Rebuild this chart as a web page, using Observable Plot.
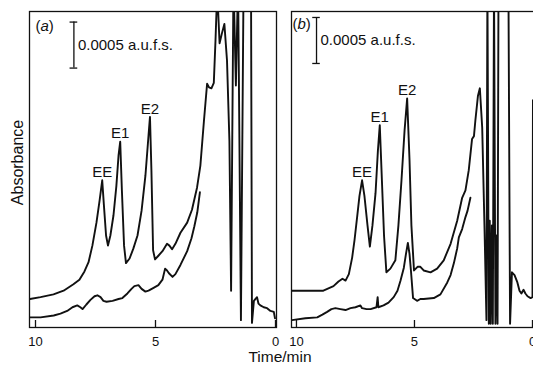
<!DOCTYPE html>
<html><head><meta charset="utf-8">
<script src="https://cdn.jsdelivr.net/npm/d3@7"></script>
<script src="https://cdn.jsdelivr.net/npm/@observablehq/plot@0.6"></script>
<style>
html,body{margin:0;padding:0;background:#fff;overflow:hidden;}
#wrap{position:relative;width:533px;height:351px;overflow:hidden;}
#caption{width:560px;margin-top:0px;text-align:center;font:15.5px "Liberation Sans",Arial,sans-serif;line-height:12px;color:#111;}
</style></head><body>
<div id="wrap"></div>
<div id="caption">Time/min</div>
<script>
// ---- data (time in min, absorbance in mAU; 0.5 mAU = 0.0005 a.u.f.s.) ----
const xTicks = [10, 5, 0];
const peakNames = ["EE", "E1", "E2"];
const scaleLabel = "0.0005 a.u.f.s.";
const panelTags = ["(a)", "(b)"];

const aUpperTime = [10.23, 9.79, 9.25, 8.83, 8.42, 8.17, 7.96, 7.79, 7.63, 7.46, 7.33, 7.22, 7.15, 7.06, 6.98, 6.88, 6.75, 6.63, 6.54, 6.47, 6.40, 6.31, 6.23, 6.08, 5.92, 5.75, 5.58, 5.42, 5.29, 5.23, 5.17, 5.10, 5.02, 4.88, 4.71, 4.52, 4.42, 4.31, 4.17, 3.96, 3.68, 3.48, 3.27, 3.13, 2.98, 2.85, 2.77, 2.67, 2.57, 2.50, 2.45, 2.40, 2.33, 2.23, 2.13, 2.02, 1.92, 1.85, 1.75, 1.65, 1.56, 1.44, 1.33, 1.02, 0.98, 0.90, 0.77, 0.71, 0.63, 0.49, 0.35, 0.21, 0.07, 0.02];
const aUpperAbs = [0.31, 0.33, 0.36, 0.40, 0.47, 0.52, 0.61, 0.71, 0.89, 1.14, 1.38, 1.60, 1.33, 1.00, 0.89, 1.00, 1.22, 1.54, 1.87, 2.02, 1.49, 0.89, 0.70, 0.75, 0.86, 1.00, 1.27, 1.65, 2.09, 2.29, 1.71, 0.84, 0.74, 0.78, 0.83, 0.91, 0.89, 0.85, 0.91, 1.03, 1.14, 1.28, 1.52, 1.76, 2.25, 2.65, 2.61, 2.60, 2.66, 3.12, 3.50, 3.50, 3.09, 3.20, 3.30, 2.90, 2.03, 0.40, 3.77, 2.63, 3.77, 0.08, 3.77, 3.77, 0.05, 0.29, 0.33, 0.26, 0.24, 0.22, 0.21, 0.18, 0.17, 0.10];

const aLowerTime = [10.23, 9.79, 9.24, 8.96, 8.68, 8.46, 8.26, 8.13, 8.04, 7.88, 7.71, 7.54, 7.42, 7.29, 7.17, 7.04, 6.79, 6.54, 6.38, 6.17, 6.00, 5.88, 5.71, 5.58, 5.42, 5.29, 5.08, 4.88, 4.71, 4.60, 4.52, 4.44, 4.29, 4.17, 3.96, 3.68, 3.50, 3.38, 3.26, 3.15];
const aLowerAbs = [0.11, 0.11, 0.13, 0.15, 0.18, 0.22, 0.24, 0.22, 0.20, 0.25, 0.30, 0.34, 0.35, 0.33, 0.29, 0.28, 0.29, 0.31, 0.32, 0.37, 0.42, 0.45, 0.46, 0.42, 0.39, 0.40, 0.43, 0.46, 0.52, 0.64, 0.62, 0.59, 0.55, 0.58, 0.68, 0.83, 0.97, 1.10, 1.25, 1.47];

const bUpperTime = [10.19, 9.62, 8.86, 8.43, 8.22, 8.05, 7.92, 7.78, 7.64, 7.54, 7.43, 7.33, 7.22, 7.12, 6.99, 6.89, 6.78, 6.65, 6.55, 6.47, 6.38, 6.29, 6.19, 6.02, 5.81, 5.68, 5.55, 5.42, 5.31, 5.21, 5.13, 5.02, 4.87, 4.75, 4.61, 4.32, 4.04, 3.76, 3.47, 3.19, 2.98, 2.84, 2.70, 2.56, 2.48, 2.42, 2.31, 2.23, 2.13, 2.03, 1.95, 1.91, 1.85, 1.81, 1.77, 1.72, 1.68, 1.63, 1.57, 1.53, 1.48, 1.44, 1.02, 0.95, 0.87, 0.76, 0.64, 0.55, 0.47, 0.38, 0.30, 0.21, 0.08, 0.00, -0.02, -0.06];
const bUpperAbs = [0.40, 0.40, 0.40, 0.45, 0.50, 0.53, 0.51, 0.58, 0.76, 0.95, 1.20, 1.43, 1.60, 1.43, 1.11, 0.88, 1.11, 1.46, 1.92, 2.20, 1.60, 1.00, 0.60, 0.64, 0.73, 1.11, 1.60, 2.14, 2.49, 1.82, 1.11, 0.62, 0.66, 0.66, 0.62, 0.60, 0.64, 0.73, 0.91, 1.16, 1.41, 1.49, 1.71, 2.05, 2.08, 2.25, 2.52, 2.60, 2.17, 1.05, 0.08, 3.77, 0.04, 1.16, 0.04, 1.11, 0.04, 3.77, 0.04, 1.00, 0.04, 3.77, 3.77, 0.04, 0.60, 0.57, 0.49, 0.40, 0.37, 0.41, 0.37, 0.34, 0.32, 0.33, 2.47, 2.47];

const bLowerTime = [10.19, 9.62, 9.12, 8.90, 8.70, 8.52, 8.35, 8.14, 7.92, 7.71, 7.50, 7.29, 7.22, 7.03, 6.86, 6.61, 6.56, 6.53, 6.31, 6.10, 5.88, 5.72, 5.59, 5.45, 5.36, 5.28, 5.21, 5.15, 5.06, 4.89, 4.75, 4.61, 4.18, 3.90, 3.61, 3.47, 3.33, 3.19, 3.12, 2.98, 2.84, 2.75, 2.63];
const bLowerAbs = [0.08, 0.10, 0.11, 0.14, 0.17, 0.20, 0.21, 0.20, 0.19, 0.21, 0.22, 0.24, 0.21, 0.20, 0.20, 0.22, 0.33, 0.22, 0.24, 0.27, 0.33, 0.40, 0.51, 0.65, 0.80, 0.92, 0.80, 0.62, 0.32, 0.29, 0.31, 0.31, 0.32, 0.36, 0.49, 0.57, 0.70, 0.86, 0.98, 1.07, 1.20, 1.27, 1.41];

const aPeakTime = [7.22, 6.47, 5.23];
const aPeakAbs = [1.60, 2.02, 2.29];
const bPeakTime = [7.22, 6.47, 5.31];
const bPeakAbs = [1.60, 2.20, 2.49];

const aScaleBarTime = 8.40;
const aScaleBarAbs = [2.82, 3.32];
const bScaleBarTime = 9.15;
const bScaleBarAbs = [2.87, 3.37];

// ---- helpers ----
const zip = (t, v) => t.map((d, i) => ({t: d, v: v[i]}));
const H = 351, MT = 11, MB = 24;
const frameH = H - MT - MB;
const ink = "#111";

function panel(cfg) {
  const peaks = peakNames.map((n, i) => ({name: n, t: cfg.peakT[i], v: cfg.peakV[i]}));
  const barMid = (cfg.barV[0] + cfg.barV[1]) / 2;
  const marks = [
    Plot.frame({stroke: ink, strokeWidth: 1.3}),
    Plot.tickX(xTicks, {x: d => d, insetTop: frameH - 7, stroke: ink, strokeWidth: 1.3}),
    Plot.axisX({ticks: xTicks, tickSize: 0, tickPadding: 9, fontSize: 13, label: null, fill: ink}),
    Plot.line(zip(cfg.lowT, cfg.lowV), {x: "t", y: "v", stroke: ink, strokeWidth: 1.9, clip: true}),
    Plot.line(zip(cfg.upT, cfg.upV), {x: "t", y: "v", stroke: ink, strokeWidth: 1.9, clip: true}),
    Plot.text(peaks, {x: "t", y: "v", text: "name", dy: -8, fontSize: 15, fill: ink}),
    Plot.ruleX([cfg.barT], {x: d => d, y1: cfg.barV[0], y2: cfg.barV[1], stroke: ink, strokeWidth: 1.3}),
    Plot.ruleY(cfg.barV, {y: d => d, x1: cfg.barT + 0.16, x2: cfg.barT - 0.16, stroke: ink, strokeWidth: 1.3}),
    Plot.text([scaleLabel], {x: cfg.barT, y: barMid, textAnchor: "start", dx: 4, fontSize: 15, fill: ink}),
    Plot.text([cfg.tag], {frameAnchor: "top-left", lineAnchor: "top", dx: cfg.tagDx, dy: cfg.tagDy, fontSize: 15, fill: ink})
  ];
  if (cfg.yLabel) marks.push(Plot.text(["Absorbance"], {frameAnchor: "left", textAnchor: "middle", rotate: -90, dx: -12, dy: -7, fontSize: 16, fill: ink}));
  const svg = Plot.plot({
    width: cfg.width, height: H,
    marginTop: MT, marginBottom: MB, marginLeft: cfg.ml, marginRight: cfg.mr,
    x: {domain: cfg.domain},
    y: {domain: [0, 3.435], axis: null},
    style: {fontFamily: '"Liberation Sans", Arial, sans-serif', fontSize: "15px", color: ink, background: "transparent"},
    marks
  });
  svg.style.position = "absolute";
  svg.style.top = "0px";
  svg.style.left = cfg.left + "px";
  svg.style.maxWidth = "none";
  svg.querySelectorAll("text").forEach(el => {
    const m = /^\((\w)\)$/.exec(el.textContent);
    if (m) el.innerHTML = `(<tspan font-style="italic">${m[1]}</tspan>)`;
  });
  return svg;
}

const wrap = document.getElementById("wrap");
wrap.appendChild(panel({
  left: 0, width: 283, ml: 29, mr: 7, domain: [10.25, -0.042],
  upT: aUpperTime, upV: aUpperAbs, lowT: aLowerTime, lowV: aLowerAbs,
  peakT: aPeakTime, peakV: aPeakAbs, barT: aScaleBarTime, barV: aScaleBarAbs,
  tag: panelTags[0], tagDx: 6, tagDy: 9, yLabel: true
}));
wrap.appendChild(panel({
  left: 280, width: 266, ml: 11, mr: 10, domain: [10.21, -0.17],
  upT: bUpperTime, upV: bUpperAbs, lowT: bLowerTime, lowV: bLowerAbs,
  peakT: bPeakTime, peakV: bPeakAbs, barT: bScaleBarTime, barV: bScaleBarAbs,
  tag: panelTags[1], tagDx: 1, tagDy: 7, yLabel: false
}));
</script>
</body></html>
